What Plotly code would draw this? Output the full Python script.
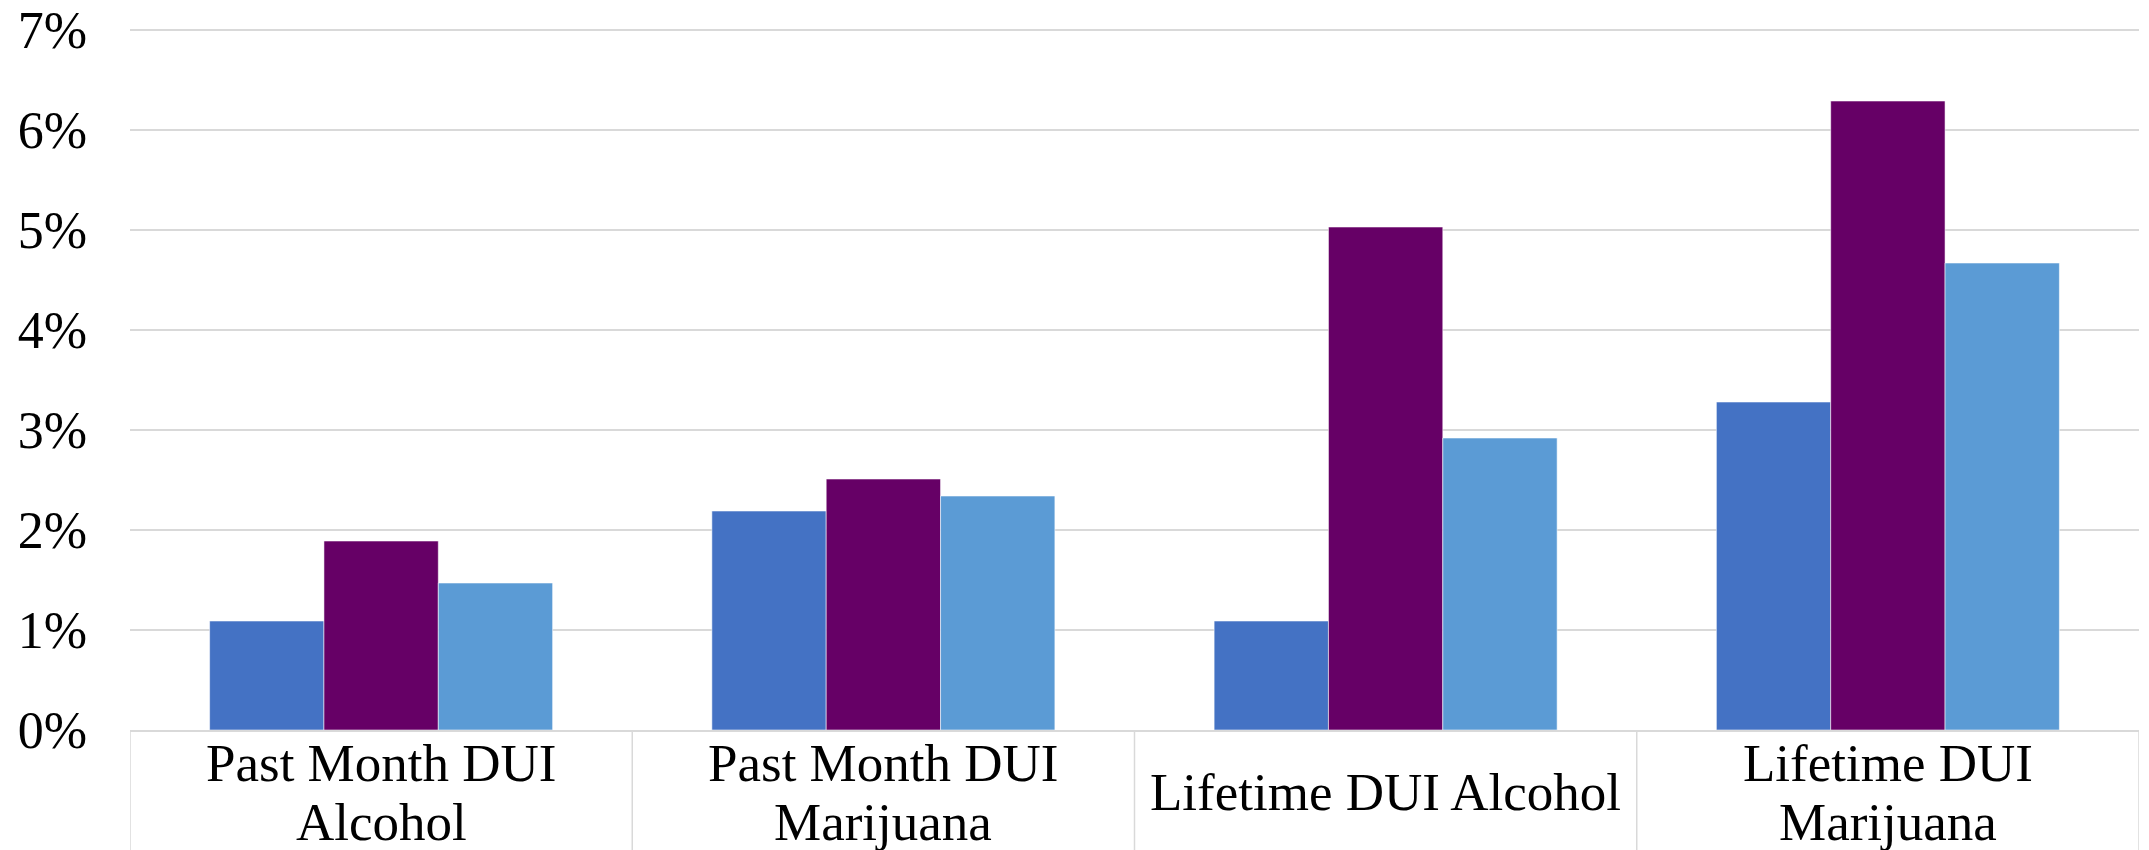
import plotly.graph_objects as go

# category labels (lines split with <br>)
categories = ["Past Month DUI<br>Alcohol", "Past Month DUI<br>Marijuana",
              "Lifetime DUI Alcohol", "Lifetime DUI<br>Marijuana"]
series1 = [1.09, 2.19, 1.09, 3.28]
series2 = [1.89, 2.51, 5.03, 6.29]
series3 = [1.47, 2.34, 2.92, 4.67]
y_ticks = [0, 1, 2, 3, 4, 5, 6, 7]
y_labels = ["0%", "1%", "2%", "3%", "4%", "5%", "6%", "7%"]

colors = ["#4472C4", "#660066", "#5B9BD5"]
font_family = "Liberation Serif, Times New Roman, serif"
grey = "#d9d9d9"

x_idx = list(range(len(categories)))

fig = go.Figure()
for vals, col in zip([series1, series2, series3], colors):
    fig.add_trace(go.Bar(x=x_idx, y=vals, marker_color=col,
                         marker_line=dict(color="rgba(255,255,255,0.55)", width=1)))

# category labels, one annotation per line so line spacing can be set
line_gap = 59
for i, lab in enumerate(categories):
    lines = lab.split("<br>")
    n = len(lines)
    for j, txt in enumerate(lines):
        off = (j - (n - 1) / 2) * line_gap
        fig.add_annotation(x=i, y=0, xref="x", yref="paper", text=txt,
                           showarrow=False, yanchor="middle", xanchor="center",
                           yshift=-62 - off,
                           font=dict(family=font_family, size=53, color="black"))

# category divider lines under the axis
for b in range(len(categories) + 1):
    fig.add_shape(type="line", xref="x", yref="paper", x0=b - 0.5, x1=b - 0.5,
                  y0=0, y1=-0.2, line=dict(color=grey, width=1.5))

fig.update_layout(
    width=2149, height=850,
    margin=dict(l=130, r=10, t=28, b=120),
    plot_bgcolor="white", paper_bgcolor="white",
    barmode="group", bargap=0.317, bargroupgap=0,
    showlegend=False,
    font=dict(family=font_family, size=52, color="black"),
)
fig.update_xaxes(range=[-0.5, len(categories) - 0.5], showticklabels=False,
                 showgrid=False, zeroline=False, showline=True, automargin=False,
                 linecolor=grey, linewidth=2, fixedrange=True)
fig.update_yaxes(range=[0, 7.02], tickvals=y_ticks, ticktext=y_labels,
                 showgrid=True, gridcolor=grey, gridwidth=1.5, zeroline=False,
                 showline=False, ticklabelstandoff=42, automargin=False,
                 tickfont=dict(family=font_family, size=52, color="black"))

# drop the default 8px page margin so the chart sits at the window corner
fig.write_html("out.html", config={"displayModeBar": False},
               post_script="document.body.style.margin='0';")
